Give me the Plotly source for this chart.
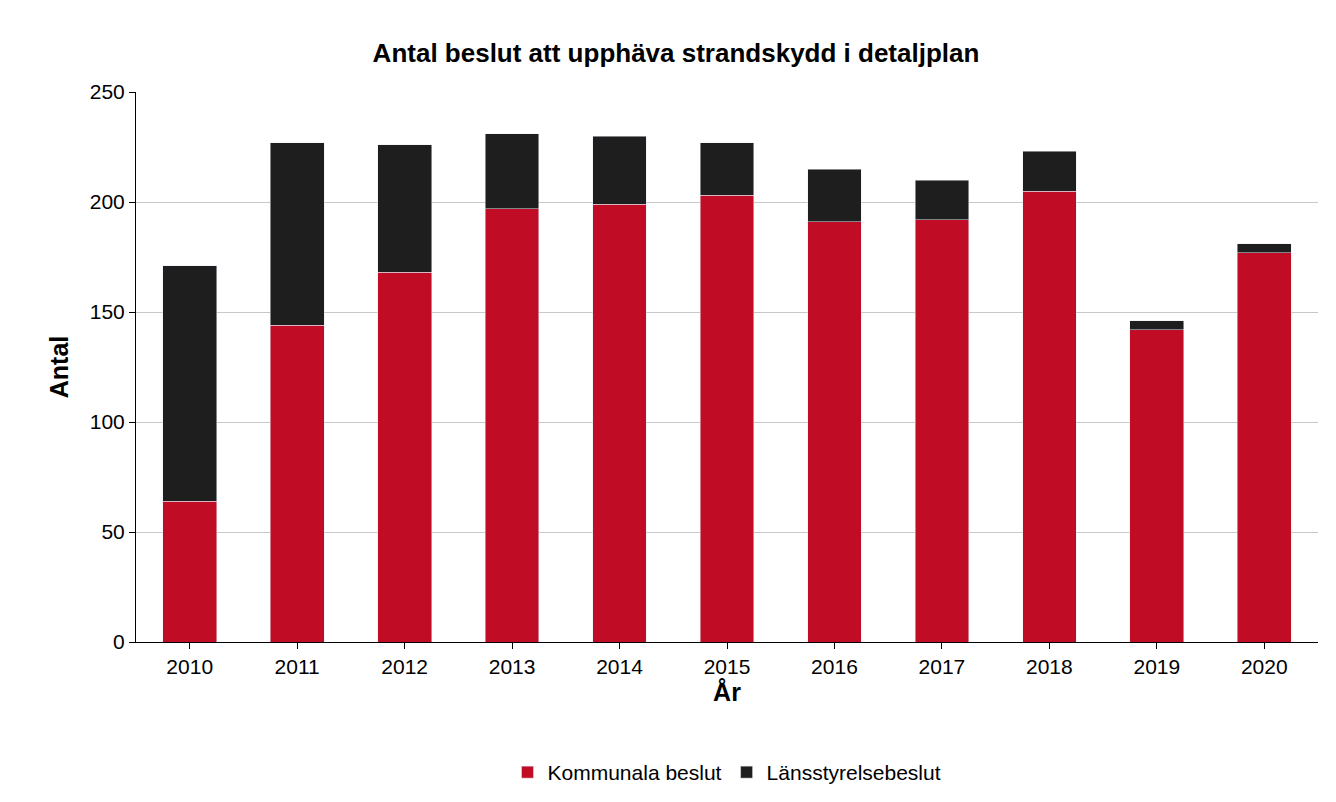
import plotly.graph_objects as go

years = ["2010", "2011", "2012", "2013", "2014", "2015", "2016", "2017", "2018", "2019", "2020"]
kommunala = [64, 144, 168, 197, 199, 203, 191, 192, 205, 142, 177]
lansstyrelse = [107, 83, 58, 34, 31, 24, 24, 18, 18, 4, 4]

fig = go.Figure()
fig.add_trace(go.Bar(x=years, y=kommunala, name="Kommunala beslut", marker_color="#c00d25"))
fig.add_trace(go.Bar(x=years, y=lansstyrelse, name="Länsstyrelsebeslut", marker_color="#1e1e1e"))

fig.update_layout(
    barmode="stack",
    bargap=0.5,
    width=1336, height=802,
    paper_bgcolor="white", plot_bgcolor="white",
    font=dict(family="Liberation Sans, Arial", size=21, color="black"),
    title=dict(text="<b>Antal beslut att upphäva strandskydd i detaljplan</b>",
               x=0.5, y=0.955, xanchor="center", font=dict(size=26)),
    margin=dict(l=128, r=26, t=84, b=168),
    legend=dict(orientation="h", x=0.5, xanchor="center", y=-0.2, yanchor="top",
                traceorder="normal", font=dict(size=21)),
    xaxis=dict(title=dict(text="<b>År</b>", standoff=6), showline=True, linecolor="black",
               ticks="outside", ticklen=6, tickcolor="black"),
    yaxis=dict(title=dict(text="<b>Antal</b>", standoff=14), range=[0, 250], dtick=50,
               showline=True, linecolor="black", gridcolor="#c8c8c8",
               ticks="outside", ticklen=6, tickcolor="black"),
)

fig.write_html("out.html")
